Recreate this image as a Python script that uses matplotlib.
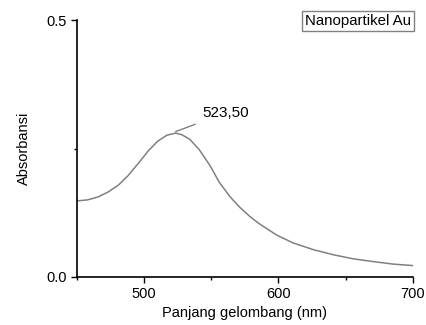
import matplotlib
matplotlib.use("Agg")
import matplotlib.pyplot as plt
from matplotlib.ticker import MultipleLocator

plt.rcParams["font.family"] = ["Liberation Sans", "DejaVu Sans"]

# UV-Vis spectrum
wavelength = [450, 458, 466, 473, 481, 488, 496, 503, 510, 517, 523.5,
              528, 534, 541, 549, 556, 564, 571, 579, 586, 593,
              599, 611, 626, 641, 656, 670, 685, 700]
absorbance = [0.148, 0.150, 0.156, 0.165, 0.179, 0.197, 0.222, 0.245, 0.264,
              0.276, 0.280, 0.277, 0.268, 0.248, 0.217, 0.184, 0.156, 0.136,
              0.117, 0.103, 0.091, 0.081, 0.066, 0.053, 0.043, 0.035, 0.030,
              0.025, 0.022]
peak_label = "523,50"
peak_x, peak_y = 523.5, 0.281
legend_text = "Nanopartikel Au"

fig = plt.figure(figsize=(4.27, 3.25), dpi=100)
ax = fig.add_axes([0.180, 0.148, 0.787, 0.790])

ax.plot(wavelength, absorbance, color="#808080", lw=1.1)
ax.set_xlim(450, 700)
ax.set_ylim(0, 0.5)
ax.set_xticks([500, 600, 700])
ax.set_yticks([0.0, 0.5])
ax.set_yticklabels(["0.0", "0.5"])
ax.xaxis.set_minor_locator(MultipleLocator(50))
ax.yaxis.set_minor_locator(MultipleLocator(0.25))

for side in ("top", "right"):
    ax.spines[side].set_visible(False)
for side in ("left", "bottom"):
    ax.spines[side].set_linewidth(1.2)
ax.tick_params(which="major", direction="out", length=4, width=1.0,
               labelsize=10.5, pad=3)
ax.tick_params(which="minor", direction="out", length=2.5, width=1.0)

ax.set_xlabel("Panjang gelombang (nm)", fontsize=10.5, labelpad=4)
ax.set_ylabel("Absorbansi", fontsize=10.5, labelpad=11)

# peak annotation with leader line
ax.annotate(peak_label, xy=(peak_x, peak_y + 0.002), xytext=(543.0, 0.319),
            fontsize=11, va="center", ha="left",
            arrowprops=dict(arrowstyle="-", color="#808080", lw=1.0,
                            shrinkA=3, shrinkB=0))

fig.text(0.838, 0.935, legend_text, fontsize=10.8, ha="center", va="center",
         bbox=dict(boxstyle="square,pad=0.2", fc="white", ec="#808080", lw=1.0))

fig.savefig("out.png", dpi=100)
